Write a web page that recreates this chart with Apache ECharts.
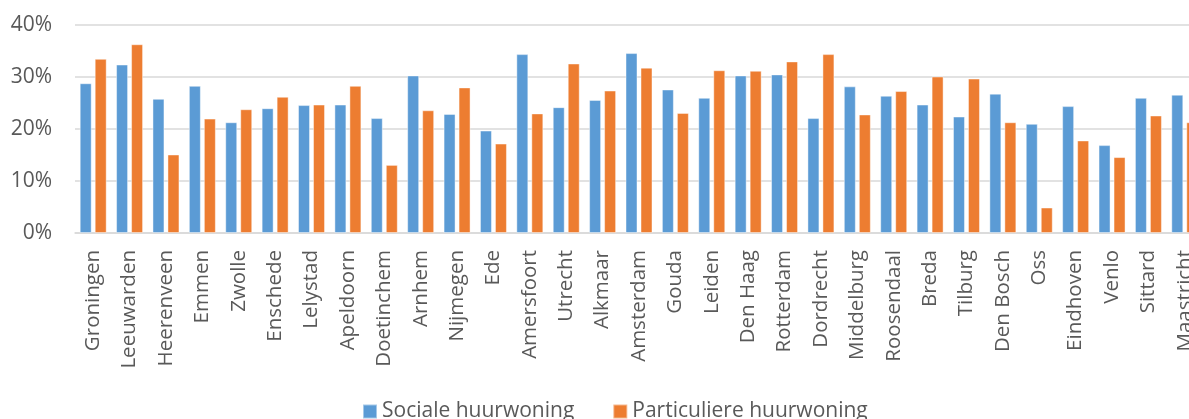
<!DOCTYPE html>
<html><head><meta charset="utf-8">
<script src="https://cdn.jsdelivr.net/npm/echarts@6/dist/echarts.min.js"></script>
<style>html,body{margin:0;padding:0;background:#fff}#c{width:1189px;height:419px}</style>
</head><body><div id="c"></div>
<script>
const categories = ["Groningen","Leeuwarden","Heerenveen","Emmen","Zwolle","Enschede","Lelystad","Apeldoorn","Doetinchem","Arnhem","Nijmegen","Ede","Amersfoort","Utrecht","Alkmaar","Amsterdam","Gouda","Leiden","Den Haag","Rotterdam","Dordrecht","Middelburg","Roosendaal","Breda","Tilburg","Den Bosch","Oss","Eindhoven","Venlo","Sittard","Maastricht"];
const sociale = [28.8,32.4,25.8,28.3,21.3,24.0,24.6,24.7,22.1,30.3,22.9,19.7,34.4,24.2,25.6,34.6,27.6,26.0,30.3,30.5,22.1,28.2,26.4,24.7,22.4,26.8,21.0,24.4,16.9,26.0,26.6];
const particuliere = [33.5,36.3,15.1,22.0,23.8,26.2,24.7,28.3,13.1,23.6,28.0,17.2,23.0,32.6,27.4,31.8,23.1,31.3,31.2,33.0,34.4,22.8,27.3,30.1,29.7,21.3,4.9,17.8,14.6,22.6,21.3];
const seriesNames = ["Sociale huurwoning","Particuliere huurwoning"];
const yTicks = {min:0, max:40, interval:10};

const font = '"Open Sans", sans-serif';
const chart = echarts.init(document.getElementById('c'), null, {renderer:'canvas'});
chart.setOption({
  animation:false,
  color:['#5B9BD5','#ED7D31'],
  grid:{left:75, width:1128, top:25, bottom:186, containLabel:false, outerBoundsMode:'none'},
  legend:{
    data:seriesNames, left:357, top:396, itemWidth:14, itemHeight:14, itemGap:38,
    icon:'rect',
    textStyle:{fontFamily:font, fontSize:21, color:'#595959'}
  },
  xAxis:{
    type:'category', data:categories,
    axisLine:{lineStyle:{color:'#d9d9d9', width:1.5}},
    axisTick:{show:false},
    axisLabel:{rotate:90, interval:0, margin:17, fontFamily:font, fontSize:20.5, color:'#595959'}
  },
  yAxis:{
    type:'value', min:yTicks.min, max:yTicks.max, interval:yTicks.interval,
    axisLabel:{formatter:'{value}%', margin:23, fontFamily:font, fontSize:21, color:'#595959'},
    splitLine:{lineStyle:{color:'#d9d9d9', width:1.5}},
    axisLine:{show:false}, axisTick:{show:false}
  },
  series:[
    {name:seriesNames[0], type:'bar', data:sociale, barWidth:12, barGap:'25%',
     itemStyle:{borderColor:'rgba(255,255,255,0.45)', borderWidth:1}},
    {name:seriesNames[1], type:'bar', data:particuliere, barWidth:12, barGap:'25%',
     itemStyle:{borderColor:'rgba(255,255,255,0.45)', borderWidth:1}}
  ]
});
</script></body></html>
